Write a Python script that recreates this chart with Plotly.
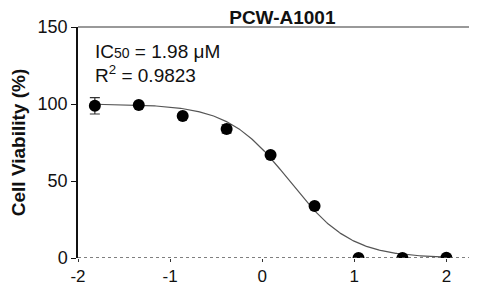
import numpy as np
import plotly.graph_objects as go

# log10 concentration (uM), 3-fold dilutions
log_conc = [-1.817, -1.340, -0.863, -0.386, 0.091, 0.569, 1.046, 1.523, 2.0]
viability = [98.8, 99.3, 92.2, 83.8, 66.9, 33.8, 0.0, 0.0, 0.2]
viability_err = [5.3, 0.8, 1.2, 2.6, 1.0, 1.2, 0.5, 0.5, 0.5]

# four-parameter logistic fit
fit_top = 100.0
fit_bottom = 0.0
fit_ic50 = 1.98
fit_hill = 1.3

x_ticks = [-2, -1, 0, 1, 2]
x_tick_labels = ['-2', '-1', '0', '1', '2']
y_ticks = [0, 50, 100, 150]

FONT = "Liberation Sans, Arial, sans-serif"

xs = np.linspace(log_conc[0], log_conc[-1], 300)
ys = fit_bottom + (fit_top - fit_bottom) / (1 + 10 ** ((xs - np.log10(fit_ic50)) * fit_hill))

fig = go.Figure()

# 拟合曲线
fig.add_trace(go.Scatter(
    x=xs, y=ys, mode='lines',
    line=dict(color='#555555', width=1.2),
    hoverinfo='skip', showlegend=False,
))

# 数据点 + 误差棒
fig.add_trace(go.Scatter(
    x=log_conc, y=viability, mode='markers',
    marker=dict(color='black', size=12),
    error_y=dict(type='data', array=viability_err, color='#333333', thickness=1.2, width=5),
    showlegend=False,
))

# y=0 dotted baseline
fig.add_shape(type='line', xref='paper', yref='y', x0=0, x1=1, y0=0, y1=0,
              line=dict(color='#555555', width=1.5, dash='dot'))

fig.add_annotation(
    xref='x', yref='y', x=-1.84, y=134, xanchor='left', yanchor='middle',
    text="IC<span style='font-size:14px'>50</span> = 1.98 μM",
    showarrow=False, font=dict(family=FONT, size=19, color='#111111'),
)
fig.add_annotation(
    xref='x', yref='y', x=-1.84, y=119.5, xanchor='left', yanchor='middle',
    text="R<sup>2</sup> = 0.9823",
    showarrow=False, font=dict(family=FONT, size=19, color='#111111'),
)

# page body has an 8px margin, so the figure is shrunk to fit the window
fig.update_layout(
    width=469, height=276,
    margin=dict(l=70, r=3, t=19, b=26),
    paper_bgcolor='white', plot_bgcolor='white',
    font=dict(family=FONT, size=18, color='#111111'),
    title=dict(text="<b>PCW-A1001</b>", x=0.585, xanchor='center', y=0.99, yanchor='top',
               font=dict(family=FONT, size=19, color='#111111')),
)

fig.update_xaxes(
    range=[-2, 2.3], tickvals=x_ticks, ticktext=x_tick_labels,
    ticks='outside', ticklen=3, tickcolor='#333333',
    showgrid=False, zeroline=False, showline=False, automargin=False,
    tickfont=dict(family=FONT, size=17, color='#111111'),
)
fig.update_yaxes(
    range=[0, 150], tickvals=y_ticks, ticks='outside', ticklen=5, tickcolor='#111111',
    showgrid=False, zeroline=False, showline=True, linecolor='#111111', linewidth=1.5,
    automargin=False,
    tickfont=dict(family=FONT, size=18, color='#111111'),
    title=dict(text="<b>Cell Viability (%)</b>", font=dict(family=FONT, size=19, color='#111111'), standoff=8),
)

# top / right frame in grey
fig.add_shape(type='line', xref='paper', yref='paper', x0=0, x1=1, y0=1, y1=1,
              line=dict(color='#777777', width=1.5))
fig.add_shape(type='line', xref='paper', yref='paper', x0=1, x1=1, y0=0, y1=1,
              line=dict(color='#777777', width=1.5))

fig.write_html("out.html")
